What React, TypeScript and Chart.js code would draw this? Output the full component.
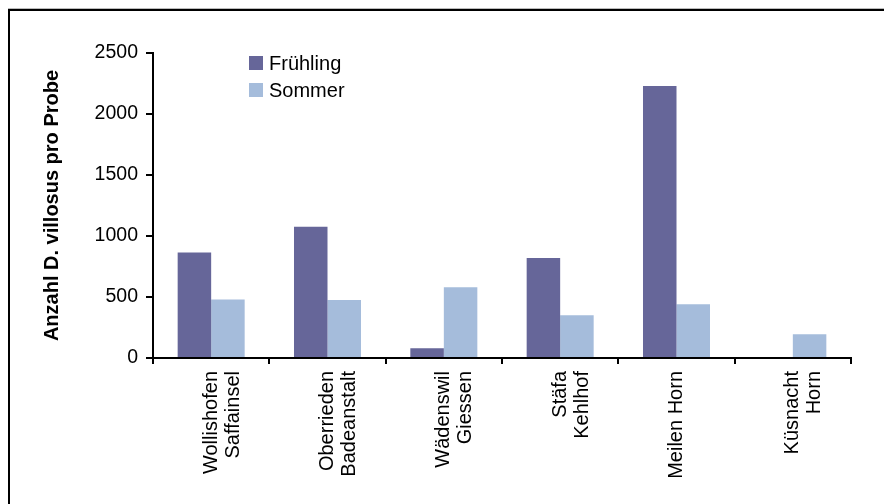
import React, { useEffect, useRef } from "react";
import { Chart, registerables } from "chart.js";

Chart.register(...registerables);

const categories: (string | string[])[] = [
  ["Wollishofen", "Saffainsel"],
  ["Oberrieden", "Badeanstalt"],
  ["Wädenswil", "Giessen"],
  ["Stäfa", "Kehlhof"],
  "Meilen Horn",
  ["Küsnacht", "Horn"],
];
const seriesNames = ["Frühling", "Sommer"];
const fruehling = [865, 1075, 80, 820, 2230, 0];
const sommer = [480, 475, 580, 350, 440, 195];
const yMin = 0;
const yMax = 2500;
const yStep = 500;
const yTitle = "Anzahl D. villosus pro Probe";

const FONT = "'Liberation Sans', Arial, Helvetica, sans-serif";
const COLORS = ["#666699", "#A5BCDB"];

const insideLegend = {
  id: "insideLegend",
  afterDraw(chart: any) {
    const { ctx, chartArea } = chart;
    ctx.save();
    ctx.font = `20px ${FONT}`;
    ctx.textBaseline = "middle";
    ctx.textAlign = "left";
    chart.data.datasets.forEach((ds: any, i: number) => {
      const x = chartArea.left + 96;
      const yc = chartArea.top + 10 + i * 27;
      ctx.fillStyle = ds.backgroundColor;
      ctx.fillRect(x, yc - 7, 14, 14);
      ctx.fillStyle = "#000";
      ctx.fillText(ds.label, x + 20, yc + 1);
    });
    ctx.restore();
  },
};

export default function App() {
  const ref = useRef<HTMLCanvasElement | null>(null);
  useEffect(() => {
    if (!ref.current) return;
    const chart = new Chart(ref.current, {
      type: "bar",
      data: {
        labels: categories,
        datasets: [
          { label: seriesNames[0], data: fruehling, backgroundColor: COLORS[0], borderWidth: 0 },
          { label: seriesNames[1], data: sommer, backgroundColor: COLORS[1], borderWidth: 0 },
        ],
      },
      options: {
        animation: false,
        responsive: false,
        devicePixelRatio: 1,
        layout: { padding: { top: 53, right: 33, left: 0, bottom: 0 } },
        datasets: { bar: { categoryPercentage: 0.576, barPercentage: 1 } },
        plugins: { legend: { display: false }, tooltip: { enabled: false } },
        scales: {
          x: {
            offset: true,
            ticks: {
              autoSkip: false,
              maxRotation: 90,
              minRotation: 90,
              color: "#000",
              padding: 7,
              font: { family: FONT, size: 20, lineHeight: 1.1 },
            },
            grid: {
              offset: true,
              drawOnChartArea: false,
              drawTicks: true,
              tickLength: 6,
              color: "#000",
              lineWidth: 2,
            },
            border: { display: true, color: "#000", width: 2 },
            afterFit: (s: any) => {
              s.height = 146;
            },
          },
          y: {
            min: yMin,
            max: yMax,
            ticks: {
              stepSize: yStep,
              color: "#000",
              padding: 8,
              font: { family: FONT, size: 19.5 },
              callback: (v: any) => String(v),
            },
            grid: {
              drawOnChartArea: false,
              drawTicks: true,
              tickLength: 7,
              color: "#000",
              lineWidth: 2,
            },
            border: { display: true, color: "#000", width: 2 },
            title: {
              display: true,
              text: yTitle,
              color: "#000",
              font: { family: FONT, size: 20, weight: "bold" },
              padding: { top: 40, bottom: 0 },
            },
            afterFit: (s: any) => {
              s.width = 153;
            },
          },
        },
      },
      plugins: [insideLegend],
    } as any);
    return () => chart.destroy();
  }, []);

  return (
    <div style={{ position: "absolute", left: 0, top: 0, width: 884, height: 504, overflow: "hidden", background: "#fff" }}>
      <div
        style={{
          position: "absolute",
          left: 8,
          top: 9,
          width: 1000,
          height: 1000,
          borderLeft: "2px solid #000",
          borderTop: "2px solid #000",
          boxShadow: "0 -1px 0 #bbb",
        }}
      />
      <canvas ref={ref} width={884} height={504} style={{ position: "absolute", left: 0, top: 0, display: "block" }} />
    </div>
  );
}
